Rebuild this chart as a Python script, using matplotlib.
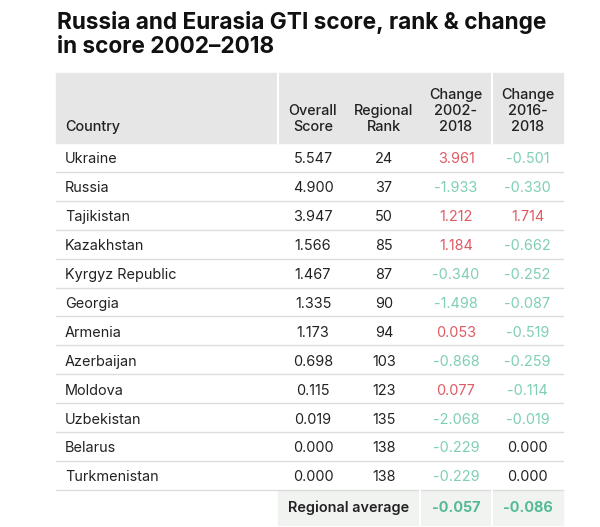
import matplotlib.pyplot as plt
from matplotlib.patches import Rectangle

plt.rcParams['font.family'] = ['Inter', 'DejaVu Sans']

# table data
countries = ['Ukraine', 'Russia', 'Tajikistan', 'Kazakhstan', 'Kyrgyz Republic',
             'Georgia', 'Armenia', 'Azerbaijan', 'Moldova', 'Uzbekistan',
             'Belarus', 'Turkmenistan']
overall_score = [5.547, 4.900, 3.947, 1.566, 1.467, 1.335, 1.173, 0.698,
                 0.115, 0.019, 0.000, 0.000]
regional_rank = [24, 37, 50, 85, 87, 90, 94, 103, 123, 135, 138, 138]
change_2002 = [3.961, -1.933, 1.212, 1.184, -0.340, -1.498, 0.053, -0.868,
               0.077, -2.068, -0.229, -0.229]
change_2016 = [-0.501, -0.330, 1.714, -0.662, -0.252, -0.087, -0.519, -0.259,
               -0.114, -0.019, 0.000, 0.000]
avg_2002 = -0.057
avg_2016 = -0.086
headers = ['Country', 'Overall\nScore', 'Regional\nRank',
           'Change\n2002-\n2018', 'Change\n2016-\n2018']

RED = '#df5a63'
GREEN = '#7fcfb2'
DARK = '#222222'
FS = 10.4

fig = plt.figure(figsize=(6, 5.27), dpi=100)
ax = fig.add_axes([0, 0, 1, 1])
ax.set_xlim(0, 600)
ax.set_ylim(527, 0)
ax.axis('off')

# title
ax.text(57, 22, 'Russia and Eurasia GTI score, rank & change',
        fontsize=16.3, fontweight='bold', color='#111111', va='center', ha='left')
ax.text(57, 47, 'in score 2002\u20132018',
        fontsize=16.3, fontweight='bold', color='#111111', va='center', ha='left')

# column layout (pixels)
left, right = 56, 563
col_edges = [56, 278, 348, 420, 492, 563]
centers = [(col_edges[i] + col_edges[i + 1]) / 2 for i in range(5)]
head_top, head_bot = 73, 143
row_h = 28.9

# header band
ax.add_patch(Rectangle((left, head_top), right - left, head_bot - head_top,
                       color='#e6e6e6', zorder=0))
for x in [278, 492]:
    ax.plot([x, x], [head_top, head_bot], color='white', lw=1.5, zorder=1)

for i, h in enumerate(headers):
    if i == 0:
        ax.text(65, 127, h, fontsize=FS, fontweight='medium', color=DARK,
                ha='left', va='center')
    else:
        ax.text(centers[i], 131, h, fontsize=FS, fontweight='medium',
                color=DARK, ha='center', va='baseline', linespacing=1.2)


def change_color(v):
    if v > 0:
        return RED
    if v < 0:
        return GREEN
    return DARK


for r, name in enumerate(countries):
    yc = head_bot + row_h * (r + 0.5) + 2
    ax.text(65, yc, name, fontsize=FS, color=DARK, ha='left', va='center')
    ax.text(centers[1], yc, f'{overall_score[r]:.3f}', fontsize=FS,
            color=DARK, ha='center', va='center')
    ax.text(centers[2], yc, f'{regional_rank[r]}', fontsize=FS,
            color=DARK, ha='center', va='center')
    ax.text(centers[3], yc, f'{change_2002[r]:.3f}', fontsize=FS,
            color=change_color(change_2002[r]), ha='center', va='center')
    ax.text(centers[4], yc, f'{change_2016[r]:.3f}', fontsize=FS,
            color=change_color(change_2016[r]), ha='center', va='center')
    yl = head_bot + row_h * (r + 1)
    ax.plot([left, right], [yl, yl], color='#dcdcdc', lw=1, zorder=1)

# regional average band
band_top = head_bot + row_h * len(countries) + 1
band_bot = 525
ax.add_patch(Rectangle((278, band_top), right - 278, band_bot - band_top,
                       color='#f1f3f1', zorder=0))
for x in [420, 492]:
    ax.plot([x, x], [band_top, band_bot], color='white', lw=1.5, zorder=1)
yb = (band_top + band_bot) / 2
ax.text((278 + 420) / 2, yb, 'Regional average', fontsize=FS,
        fontweight='semibold', color=DARK, ha='center', va='center')
ax.text(centers[3], yb, f'{avg_2002:.3f}', fontsize=FS, fontweight='bold',
        color='#52bb93', ha='center', va='center')
ax.text(centers[4], yb, f'{avg_2016:.3f}', fontsize=FS, fontweight='bold',
        color='#52bb93', ha='center', va='center')

fig.savefig('out.png', dpi=100)
